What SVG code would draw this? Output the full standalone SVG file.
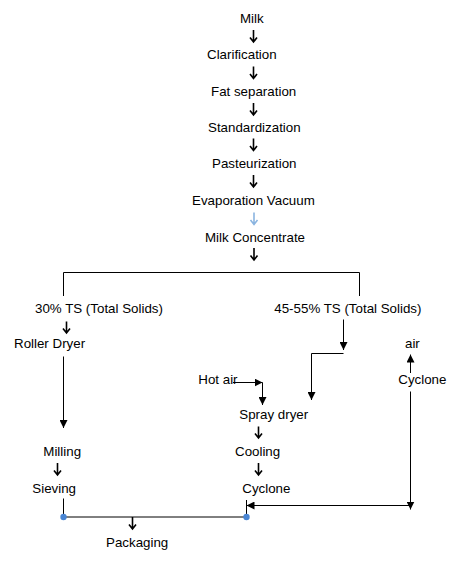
<svg xmlns="http://www.w3.org/2000/svg" width="476" height="571" viewBox="0 0 476 571">
<style>
  text { font-family: "Liberation Sans", Arial, sans-serif; font-size: 13.33px; fill: #000; }
  .ln { fill: none; stroke: #000; stroke-width: 1; }
  .sa { fill: none; stroke: #000; stroke-width: 1.6; }
  .sa-light { fill: none; stroke: #8ab4e0; stroke-width: 1.6; }
  .ah { marker-end: url(#tri); }
  .dot { fill: #4a86d4; }
</style>
<defs>
  <marker id="tri" markerUnits="userSpaceOnUse" markerWidth="8" markerHeight="8" refX="8" refY="4" orient="auto">
    <path d="M0,0 L8,4 L0,8 Z" fill="#000"/>
  </marker>
</defs>
<rect width="476" height="571" fill="#fff"/>

<g id="connectors">
  <path class="sa" d="M253.5,30 V42 M250,37.5 L253.5,42 L257,37.5"/>
  <path class="sa" d="M253.5,66.5 V78.5 M250,74 L253.5,78.5 L257,74"/>
  <path class="sa" d="M253.5,103 V115 M250,110.5 L253.5,115 L257,110.5"/>
  <path class="sa" d="M253.5,138.5 V150.5 M250,146 L253.5,150.5 L257,146"/>
  <path class="sa" d="M253.5,175 V187 M250,182.5 L253.5,187 L257,182.5"/>
  <path class="sa-light" d="M254,212.5 V224.5 M250.5,220 L254,224.5 L257.5,220"/>
  <path class="sa" d="M254,248 V260 M250.5,255.5 L254,260 L257.5,255.5"/>
  <path class="ln" d="M63.5,296 V272.5 H359.5 V296"/>
  <path class="sa" d="M66.5,321.5 V333 M63,328.5 L66.5,333 L70,328.5"/>
  <path class="ln ah" d="M63.5,356.5 V428"/>
  <path class="sa" d="M57.5,463 V475 M54,470.5 L57.5,475 L61,470.5"/>
  <path class="ln" d="M63.5,498.5 V517"/>
  <path class="ln ah" d="M343.5,319.5 V350"/>
  <path class="ln ah" d="M343.5,353.5 H311.5 V400"/>
  <path class="ln ah" d="M233,382.5 H262.5"/>
  <path class="ln ah" d="M262.5,382.5 V405"/>
  <path class="sa" d="M258.5,426.5 V438 M255,433.5 L258.5,438 L262,433.5"/>
  <path class="sa" d="M258.5,463 V475 M255,470.5 L258.5,475 L262,470.5"/>
  <path class="ln" d="M246.5,500 V517"/>
  <path class="ln ah" d="M410.5,373 V354.5"/>
  <path class="ln ah" d="M410.5,391.5 V509.5"/>
  <path class="ln ah" d="M410.5,505.5 H246.5"/>
  <path class="ln" d="M63.5,517 H246.5"/>
  <path class="sa" d="M132.5,517 V529 M129,524.5 L132.5,529 L136,524.5"/>
  <circle class="dot" cx="63.5" cy="517" r="3.2"/>
  <circle class="dot" cx="246.5" cy="517" r="3.2"/>
</g>

<g id="n-milk"><text x="240" y="22.7">Milk</text></g>
<g id="n-clarification"><text x="207" y="58.5">Clarification</text></g>
<g id="n-fat"><text x="211" y="95.5">Fat separation</text></g>
<g id="n-standardization"><text x="208" y="131.5">Standardization</text></g>
<g id="n-pasteurization"><text x="212" y="167.5">Pasteurization</text></g>
<g id="n-evaporation"><text x="192" y="205">Evaporation Vacuum</text></g>
<g id="n-concentrate"><text x="205" y="241.5">Milk Concentrate</text></g>
<g id="n-ts30"><text x="35" y="312.5">30% TS (Total Solids)</text></g>
<g id="n-ts45"><text x="274.3" y="312.5">45-55% TS (Total Solids)</text></g>
<g id="n-roller"><text x="14" y="348.3">Roller Dryer</text></g>
<g id="n-air"><text x="405" y="348.3">air</text></g>
<g id="n-hotair"><text x="198.3" y="384.3">Hot air</text></g>
<g id="n-cyclone2"><text x="398.3" y="384.3">Cyclone</text></g>
<g id="n-spray"><text x="239.3" y="419.3">Spray dryer</text></g>
<g id="n-milling"><text x="43.3" y="456">Milling</text></g>
<g id="n-cooling"><text x="235" y="456">Cooling</text></g>
<g id="n-sieving"><text x="32.3" y="493.3">Sieving</text></g>
<g id="n-cyclone1"><text x="242.3" y="492.7">Cyclone</text></g>
<g id="n-packaging"><text x="106" y="546.7">Packaging</text></g>
</svg>
